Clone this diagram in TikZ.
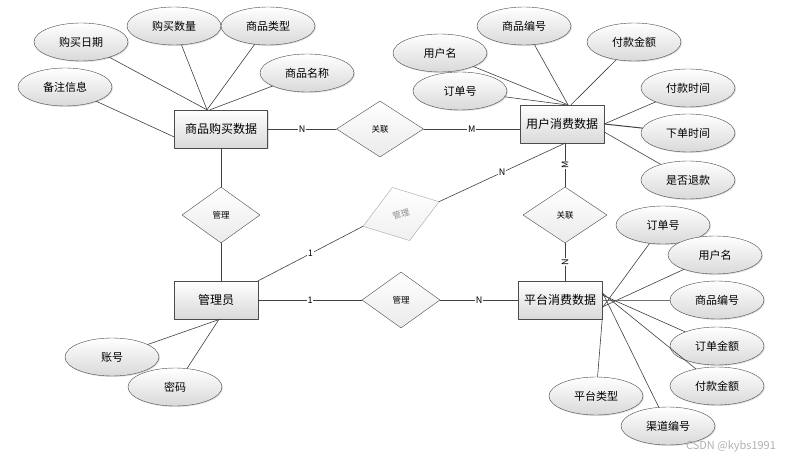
\documentclass[tikz,border=0pt]{standalone}
\usepackage{fontspec}
\setmainfont{Noto Sans CJK SC}
\usepackage{tikz}
\usetikzlibrary{shapes.geometric,shadows,calc,positioning}

\begin{document}
\begin{tikzpicture}[x=1pt,y=-1pt,line cap=round,line join=round,
  ent/.style={rectangle,draw=black!70,top color=white,bottom color=black!15,
    minimum width=84pt,minimum height=38pt,inner sep=0pt,font=\fontsize{12}{12}\selectfont,
    drop shadow={shadow xshift=1pt,shadow yshift=-1pt,opacity=.25}},
  attr/.style={ellipse,draw=black!70,top color=white,bottom color=black!15,
    minimum width=94pt,minimum height=38pt,inner sep=0pt,font=\fontsize{11}{11}\selectfont,
    drop shadow={shadow xshift=1pt,shadow yshift=-1pt,opacity=.25}},
  rel/.style={diamond,draw=black!70,top color=white,bottom color=black!8,aspect=1.4,
    minimum width=80pt,minimum height=56pt,inner sep=0pt,font=\fontsize{8.5}{8.5}\selectfont},
  lnk/.style={draw=black!75,line width=0.6pt},
  card/.style={fill=white,inner sep=0.8pt,font=\fontsize{9}{9}\selectfont}]
\useasboundingbox (0,0) rectangle (808,462);
\fill[white] (0,0) rectangle (808,462);

% entities
\node[ent,minimum width=93pt] (buy) at (221,129) {商品购买数据};
\node[ent] (user) at (562,124) {用户消费数据};
\node[ent] (admin) at (216,300) {管理员};
\node[ent] (plat) at (560,300) {平台消费数据};

% relations
\node[rel,minimum width=87pt] (linkA) at (380,129) {关联};
\node[rel,minimum width=78pt] (manA) at (221,215) {管理};
\node[rel,draw=black!35,bottom color=black!6,text=black!45,rotate=18] (manB) at (401,214) {管理};
\node[rel,minimum width=78pt] (manC) at (401,300) {管理};
\node[rel,minimum width=84pt] (linkB) at (565,215) {关联};

% attributes of buy
\node[attr] (bDate) at (81,42) {购买日期};
\node[attr] (bNum) at (174,26) {购买数量};
\node[attr] (bType) at (268,26) {商品类型};
\node[attr] (bName) at (307,73) {商品名称};
\node[attr] (bNote) at (65,87) {备注信息};
\coordinate (buyTop) at ([xshift=-14pt]buy.north);
\draw[lnk] (bDate) -- (buyTop);
\draw[lnk] (bNum) -- (buyTop);
\draw[lnk] (bType) -- (buyTop);
\draw[lnk] (bName) -- ([xshift=-11pt]buy.north);
\draw[lnk] (bNote) -- ([yshift=-8pt]buy.west);

% attributes of user
\node[attr] (uName) at (440,53) {用户名};
\node[attr] (uGood) at (524,26) {商品编号};
\node[attr] (uPay) at (634,42) {付款金额};
\node[attr] (uOrder) at (460,91) {订单号};
\node[attr] (uTime) at (688,88) {付款时间};
\node[attr] (uPlace) at (688,133) {下单时间};
\node[attr] (uBack) at (688,180) {是否退款};
\coordinate (userTop) at ([xshift=6pt]user.north);
\draw[lnk] (uName) -- (userTop);
\draw[lnk] (uGood) -- (userTop);
\draw[lnk] (uPay) -- ([xshift=9pt]user.north);
\draw[lnk] (uOrder) -- ([xshift=4pt]user.north);
\draw[lnk] (uTime) -- (user.east);
\draw[lnk,line width=1pt] (uPlace) -- (user.east);
\draw[lnk] (uBack) -- ([yshift=-8pt]user.east);

% attributes of plat
\node[attr] (pOrder) at (663,225) {订单号};
\node[attr] (pName) at (715,255) {用户名};
\node[attr] (pGood) at (717,300) {商品编号};
\node[attr] (pSum) at (717,346) {订单金额};
\node[attr] (pPay) at (717,386) {付款金额};
\node[attr] (pType) at (596,396) {平台类型};
\node[attr] (pWay) at (668,426) {渠道编号};
\draw[lnk] (pOrder) -- ([yshift=-8pt]plat.east);
\draw[lnk] (pName) -- ([yshift=-7pt]plat.east);
\draw[lnk,line width=1pt,draw=black!55] (pGood) -- (plat.east);
\draw[lnk] (pSum) -- ([yshift=5pt]plat.east);
\draw[lnk] (pPay) -- ([yshift=7pt]plat.east);
\draw[lnk] (pWay) -- ([yshift=8pt]plat.east);
\draw[lnk] (pType) -- (plat.south east);

% attributes of admin
\node[attr] (aId) at (112,357) {账号};
\node[attr] (aPwd) at (175,387) {密码};
\draw[lnk] (aId) -- ([xshift=4pt]admin.south);
\draw[lnk] (aPwd) -- ([xshift=3pt]admin.south);

% links between entities
\draw[lnk] (buy.east) -- node[card] {N} (linkA.west);
\draw[lnk] (linkA.east) -- node[card] {M} (linkA.east -| user.west);
\draw[lnk] (buy.south) -- (manA.north);
\draw[lnk] (manA.south) -- (manA.south |- admin.north);
\draw[lnk] (admin.north east) -- node[card] {1} (manB.west);
\draw[lnk] (manB.east) -- node[card] {N} ([xshift=3pt]user.south);
\draw[lnk] ([xshift=3pt]user.south) -- node[card,rotate=90] {M} (linkB.north);
\draw[lnk] (linkB.south) -- node[card,rotate=90] {N} (linkB.south |- plat.north);
\draw[lnk] (admin.east) -- node[card] {1} (manC.west);
\draw[lnk] (manC.east) -- node[card] {N} (plat.west);

\node[text=black!30,font=\fontsize{11}{11}\selectfont] (mark) at (731,446) {CSDN @kybs1991};
\end{tikzpicture}
\end{document}
